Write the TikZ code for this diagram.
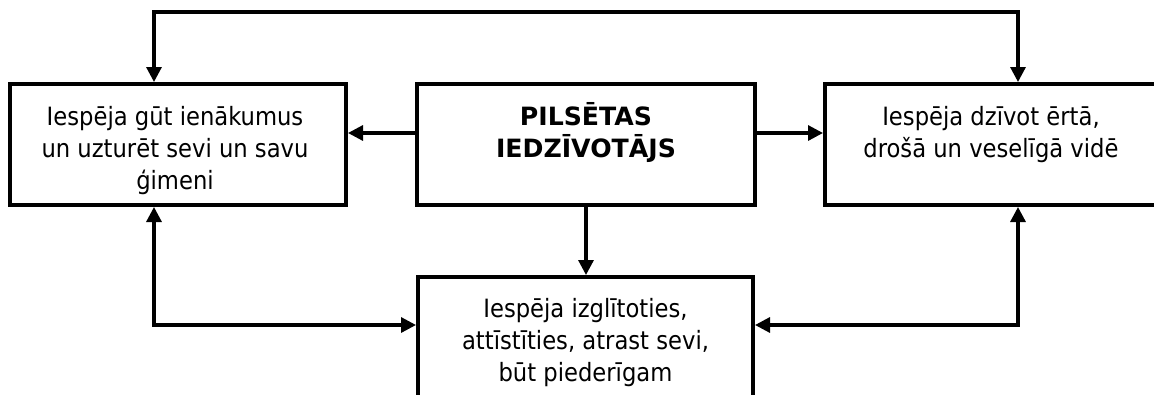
\documentclass[tikz,border=0pt]{standalone}
\usepackage{fontspec}
\setmainfont{DejaVu Sans Condensed}
\newfontfamily\headfont{DejaVu Sans}
\usetikzlibrary{arrows.meta}
\newcommand\firstln{\rule{0pt}{25pt}}

\begin{document}
\begin{tikzpicture}[x=1pt,y=-1pt,
		box/.style={draw,line width=4pt,inner sep=0pt,minimum width=338pt,minimum height=121pt},
		txt/.style={align=center,anchor=north,inner sep=0pt,font=\fontsize{25.2}{32}\selectfont},
		head/.style={txt,font=\fontsize{25.2}{32}\selectfont\headfont\bfseries},
		link/.style={line width=3.2pt,-{Triangle[length=15pt,width=15pt]}},
		duo/.style={line width=3.2pt,{Triangle[length=15pt,width=15pt]}-{Triangle[length=15pt,width=15pt]}}]
		\useasboundingbox (0,0) rectangle (1154,394);
		\clip (0,0) rectangle (1154,394);
		%=========== boxes, left to right, then bottom ===========================
		\node[box,minimum width=336pt] (ienakumi) at (178,144.5) {};
		\node[box] (iedz) at (586,144.5) {};
		\node[box] (vide) at (994,144.5) {};
		\node[box,minimum width=335pt] (izglit) at (585.5,337.5) {};
		\node[txt] (ienakumiT) at ([xshift=-3pt,yshift=-18pt]ienakumi.north) {\firstln Iespēja gūt ienākumus\\un uzturēt sevi un savu\\ģimeni};
		\node[head] (iedzT) at ([yshift=-18pt]iedz.north) {\firstln PILSĒTAS\\IEDZĪVOTĀJS};
		\node[txt] (videT) at ([xshift=-3pt,yshift=-18pt]vide.north) {\firstln Iespēja dzīvot ērtā,\\drošā un veselīgā vidē};
		\node[txt] (izglitT) at ([yshift=-17pt]izglit.north) {\firstln Iespēja izglītoties,\\attīstīties, atrast sevi,\\būt piederīgam};
		%=========== connectors ===========================
		\coordinate (nw) at (154,12);
		\coordinate (ne) at (1018,12);
		\coordinate (sw) at (154,325);
		\coordinate (se) at (1018,325);
		\coordinate (lvl) at (586,133);
		\draw[duo] (ienakumi.north -| nw) -- (nw) -- (ne) -- (vide.north -| ne);
		\draw[link] (iedz.west |- lvl) -- (ienakumi.east |- lvl);
		\draw[link] (iedz.east |- lvl) -- (vide.west |- lvl);
		\draw[link] (iedz.south) -- (iedz.south |- izglit.north);
		\draw[duo] (ienakumi.south -| sw) -- (sw) -- (izglit.west |- sw);
		\draw[duo] (vide.south -| se) -- (se) -- (izglit.east |- se);
	\end{tikzpicture}
\end{document}
